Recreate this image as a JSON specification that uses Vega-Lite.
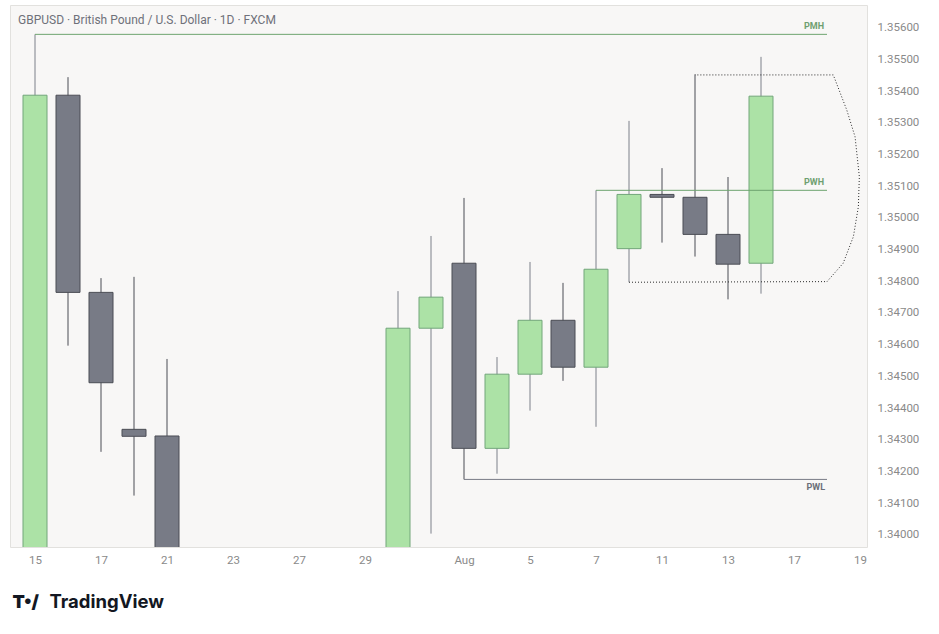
{
  "$schema": "https://vega.github.io/schema/vega-lite/v6.json",
  "description": "GBPUSD daily candles with previous month/week high and low levels.",
  "width": 857,
  "height": 542,
  "autosize": {"type": "none"},
  "padding": {"left": 10, "top": 5, "right": 72, "bottom": 87},
  "background": "#ffffff",
  "title": {
    "text": "GBPUSD · British Pound / U.S. Dollar · 1D · FXCM",
    "anchor": "start",
    "frame": "group",
    "dx": 8,
    "dy": 13,
    "offset": -18,
    "baseline": "alphabetic",
    "font": "Roboto",
    "fontSize": 12,
    "fontWeight": "normal",
    "color": "#6f717a"
  },
  "config": {
    "view": {"fill": "#f8f7f6", "stroke": "#e2e1de"},
    "axis": {
      "labelFont": "Roboto",
      "labelFontSize": 11.5,
      "labelColor": "#8a8a8a",
      "labelOverlap": false,
      "grid": false,
      "ticks": false,
      "domain": false
    }
  },
  "datasets": {
    "candles": [
      {"i": 0, "open": 1.3380, "high": 1.35579, "low": 1.3375, "close": 1.35387},
      {"i": 1, "open": 1.35387, "high": 1.35444, "low": 1.34597, "close": 1.34765},
      {"i": 2, "open": 1.34765, "high": 1.34810, "low": 1.34262, "close": 1.34480},
      {"i": 3, "open": 1.34333, "high": 1.34814, "low": 1.34124, "close": 1.34311},
      {"i": 4, "open": 1.34312, "high": 1.34555, "low": 1.3378, "close": 1.3385},
      {"i": 11, "open": 1.3390, "high": 1.34769, "low": 1.3385, "close": 1.34652},
      {"i": 12, "open": 1.34652, "high": 1.34943, "low": 1.34004, "close": 1.34750},
      {"i": 13, "open": 1.34857, "high": 1.35063, "low": 1.34175, "close": 1.34273},
      {"i": 14, "open": 1.34273, "high": 1.34561, "low": 1.34193, "close": 1.34507},
      {"i": 15, "open": 1.34507, "high": 1.34861, "low": 1.34392, "close": 1.34677},
      {"i": 16, "open": 1.34677, "high": 1.34795, "low": 1.34486, "close": 1.34529},
      {"i": 17, "open": 1.34529, "high": 1.35087, "low": 1.34341, "close": 1.34838},
      {"i": 18, "open": 1.34903, "high": 1.35306, "low": 1.34797, "close": 1.35074},
      {"i": 19, "open": 1.35074, "high": 1.35157, "low": 1.34922, "close": 1.35065},
      {"i": 20, "open": 1.35065, "high": 1.35453, "low": 1.34878, "close": 1.34948},
      {"i": 21, "open": 1.34948, "high": 1.35129, "low": 1.34743, "close": 1.34854},
      {"i": 22, "open": 1.34857, "high": 1.35508, "low": 1.34761, "close": 1.35384}
    ],
    "levels": [
      {"name": "PMH", "from": 0, "to": 24, "price": 1.35579},
      {"name": "PWH", "from": 17, "to": 24, "price": 1.35087},
      {"name": "PWL", "from": 13, "to": 24, "price": 1.34175}
    ],
    "zone": [
      {"o": 0, "i": 18, "price": 1.34797},
      {"o": 1, "i": 24.0, "price": 1.34799},
      {"o": 2, "i": 24.49, "price": 1.34857},
      {"o": 3, "i": 24.8, "price": 1.34941},
      {"o": 4, "i": 24.95, "price": 1.35035},
      {"o": 5, "i": 24.98, "price": 1.3513},
      {"o": 6, "i": 24.85, "price": 1.35256},
      {"o": 7, "i": 24.6, "price": 1.3534},
      {"o": 8, "i": 24.19, "price": 1.35451},
      {"o": 9, "i": 20, "price": 1.35451}
    ]
  },
  "layer": [
    {
      "data": {"name": "candles"},
      "mark": {"type": "rule", "clip": true, "strokeWidth": 1},
      "encoding": {
        "x": {
          "field": "i",
          "type": "quantitative",
          "scale": {"domain": [-0.758, 25.212], "nice": false, "zero": false, "padding": 0},
          "axis": {
            "values": [0, 2, 4, 6, 8, 10, 13, 15, 17, 19, 21, 23, 25],
            "labelExpr": "['15','','17','','21','','23','','27','','29','','','Aug','','5','','7','','11','','13','','17','','19'][datum.value]",
            "labelPadding": 7,
            "labelFlush": false,
            "title": "TradingView",
            "titleFont": "Inter",
            "titleFontSize": 18.5,
            "titleFontWeight": "bold",
            "titleColor": "#131722",
            "titleAnchor": "start",
            "titleAlign": "left",
            "titleBaseline": "alphabetic",
            "titleX": 39,
            "titleY": 60
          }
        },
        "y": {
          "field": "low",
          "type": "quantitative",
          "scale": {"domain": [1.339618, 1.356716], "nice": false, "zero": false, "padding": 0},
          "axis": {
            "orient": "right",
            "values": [1.340, 1.341, 1.342, 1.343, 1.344, 1.345, 1.346, 1.347, 1.348, 1.349, 1.350, 1.351, 1.352, 1.353, 1.354, 1.355, 1.356],
            "tickCount": 17,
            "format": ".5f",
            "labelPadding": 10,
            "labelAlign": "left",
            "title": "T•/",
            "titleFont": "Inter",
            "titleFontSize": 18,
            "titleFontWeight": 900,
            "titleColor": "#131722",
            "titleAngle": 0,
            "titleAlign": "left",
            "titleBaseline": "alphabetic",
            "titleX": -855,
            "titleY": 602
          }
        },
        "y2": {"field": "high"},
        "color": {
          "condition": {"test": "datum.close >= datum.open", "value": "#7d808a"},
          "value": "#4b4d55"
        }
      }
    },
    {
      "data": {"name": "candles"},
      "mark": {"type": "bar", "clip": true, "width": 24, "strokeWidth": 1},
      "encoding": {
        "x": {"field": "i", "type": "quantitative"},
        "y": {"field": "open", "type": "quantitative", "axis": {"orient": "right", "tickCount": 17, "values": [1.340, 1.341, 1.342, 1.343, 1.344, 1.345, 1.346, 1.347, 1.348, 1.349, 1.350, 1.351, 1.352, 1.353, 1.354, 1.355, 1.356]}},
        "y2": {"field": "close"},
        "fill": {
          "condition": {"test": "datum.close >= datum.open", "value": "#ace2a6"},
          "value": "#787b86"
        },
        "stroke": {
          "condition": {"test": "datum.close >= datum.open", "value": "#72a67a"},
          "value": "#4b4d55"
        }
      }
    },
    {
      "data": {"name": "levels"},
      "mark": {"type": "rule", "strokeWidth": 1},
      "encoding": {
        "x": {"field": "from", "type": "quantitative"},
        "x2": {"field": "to"},
        "y": {"field": "price", "type": "quantitative", "axis": {"orient": "right", "tickCount": 17, "values": [1.340, 1.341, 1.342, 1.343, 1.344, 1.345, 1.346, 1.347, 1.348, 1.349, 1.350, 1.351, 1.352, 1.353, 1.354, 1.355, 1.356]}},
        "color": {
          "field": "name",
          "type": "nominal",
          "scale": {"domain": ["PMH", "PWH", "PWL"], "range": ["#6ea46f", "#6ea46f", "#787b86"]},
          "legend": null
        }
      }
    },
    {
      "data": {"name": "levels"},
      "transform": [{"filter": "datum.name != 'PWL'"}],
      "mark": {"type": "text", "align": "right", "baseline": "bottom", "dx": -3, "dy": -3, "font": "Roboto", "fontSize": 9, "fontWeight": "bold", "color": "#6f9f70"},
      "encoding": {
        "x": {"field": "to", "type": "quantitative"},
        "y": {"field": "price", "type": "quantitative", "axis": {"orient": "right", "tickCount": 17, "values": [1.340, 1.341, 1.342, 1.343, 1.344, 1.345, 1.346, 1.347, 1.348, 1.349, 1.350, 1.351, 1.352, 1.353, 1.354, 1.355, 1.356]}},
        "text": {"field": "name"}
      }
    },
    {
      "data": {"name": "levels"},
      "transform": [{"filter": "datum.name == 'PWL'"}],
      "mark": {"type": "text", "align": "right", "baseline": "top", "dx": -2, "dy": 4, "font": "Roboto", "fontSize": 9, "fontWeight": "bold", "color": "#6b6e78"},
      "encoding": {
        "x": {"field": "to", "type": "quantitative"},
        "y": {"field": "price", "type": "quantitative", "axis": {"orient": "right", "tickCount": 17, "values": [1.340, 1.341, 1.342, 1.343, 1.344, 1.345, 1.346, 1.347, 1.348, 1.349, 1.350, 1.351, 1.352, 1.353, 1.354, 1.355, 1.356]}},
        "text": {"field": "name"}
      }
    },
    {
      "data": {"name": "zone"},
      "mark": {"type": "line", "strokeDash": [1, 2], "strokeWidth": 1, "color": "#2a2a2a"},
      "encoding": {
        "x": {"field": "i", "type": "quantitative"},
        "y": {"field": "price", "type": "quantitative", "axis": {"orient": "right", "tickCount": 17, "values": [1.340, 1.341, 1.342, 1.343, 1.344, 1.345, 1.346, 1.347, 1.348, 1.349, 1.350, 1.351, 1.352, 1.353, 1.354, 1.355, 1.356]}},
        "order": {"field": "o", "type": "quantitative"}
      }
    }
  ]
}
